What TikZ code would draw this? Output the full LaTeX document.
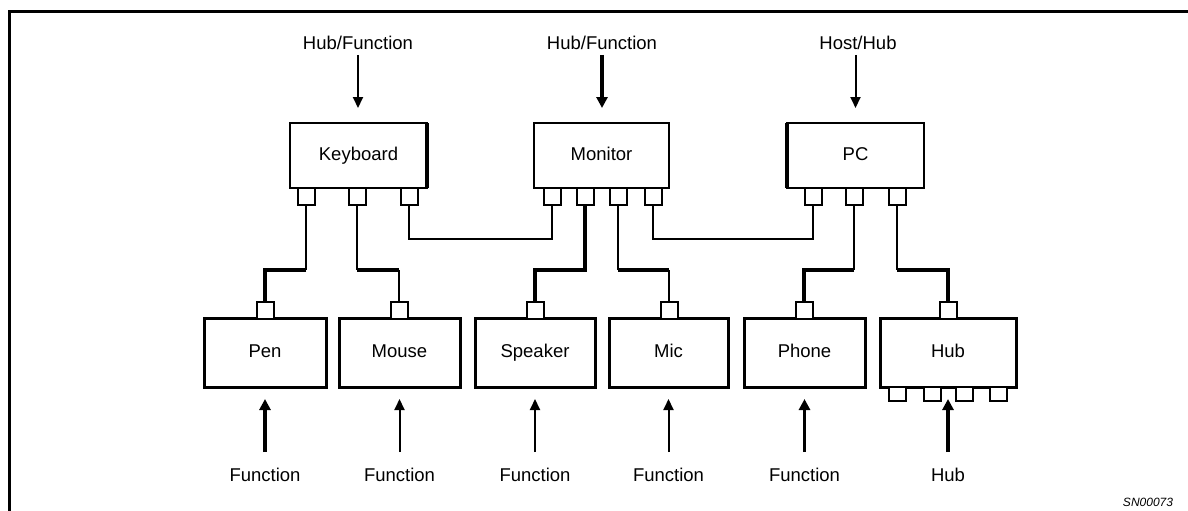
\documentclass[tikz,border=0pt]{standalone}
\usepackage{fontspec}
\setmainfont{Liberation Sans}
\usetikzlibrary{arrows.meta}
\begin{document}
\begin{tikzpicture}[x=1pt,y=-1pt,
  lbl/.style={font=\fontsize{18.5}{20}\selectfont, inner sep=0pt},
  topbox/.style={draw, line width=2.2pt, outer sep=0pt, inner sep=0pt, minimum height=65pt, text height=13pt, text depth=3.5pt, font=\fontsize{18.5}{20}\selectfont},
  botbox/.style={draw, line width=3pt, outer sep=0pt, inner sep=0pt, minimum height=69pt, text height=13pt, text depth=3.5pt, font=\fontsize{18.5}{20}\selectfont},
  port/.style={draw, fill=white, line width=2pt, outer sep=0pt, inner sep=0pt, minimum width=17pt, minimum height=17pt},
  hport/.style={port, minimum height=14pt},
  thinw/.style={line width=2pt},
  thickw/.style={line width=3.6pt},
  arrthin/.style={line width=2pt, -{Triangle[length=11pt,width=10pt]}},
  arrthick/.style={line width=3.4pt, -{Triangle[length=11pt,width=11pt]}},
  heavy/.style={line width=4.5pt}
]
\useasboundingbox (0,0) rectangle (1188,511);
\draw[line width=3.5pt] (9.5,530) -- (9.5,11.5) -- (1210,11.5);

% top boxes
\node[topbox, minimum width=137pt] (kb) at (358.5,155.5) {Keyboard};
\node[topbox, minimum width=135pt] (mon) at (601.5,155.5) {Monitor};
\node[topbox, minimum width=137pt] (pc) at (855.5,155.5) {PC};
\draw[heavy] (kb.north east) -- (kb.south east);
\draw[heavy] (pc.north west) -- (pc.south west);

% bottom boxes
\node[botbox, minimum width=122pt] (pen) at (265,352.5) {Pen};
\node[botbox, minimum width=121pt] (mouse) at (399.5,352.5) {Mouse};
\node[botbox, minimum width=120pt] (spk) at (535,352.5) {Speaker};
\node[botbox, minimum width=119pt] (mic) at (668.5,352.5) {Mic};
\node[botbox, minimum width=121pt] (ph) at (804.5,352.5) {Phone};
\node[botbox, minimum width=136pt] (hub) at (948,352.5) {Hub};

% ports on top boxes
\node[port] (k1) at (306,196.5) {};
\node[port] (k2) at (357,196.5) {};
\node[port] (k3) at (409,196.5) {};
\node[port] (m1) at (552,196.5) {};
\node[port] (m2) at (585,196.5) {};
\node[port] (m3) at (618,196.5) {};
\node[port] (m4) at (653,196.5) {};
\node[port] (c1) at (813,196.5) {};
\node[port] (c2) at (854,196.5) {};
\node[port] (c3) at (897,196.5) {};

% ports on bottom boxes
\node[port] (pp) at (265,310.5) {};
\node[port] (mp) at (399,310.5) {};
\node[port] (sp) at (535,310.5) {};
\node[port] (ip) at (669,310.5) {};
\node[port] (fp) at (804,310.5) {};
\node[port] (hp) at (948,310.5) {};

% hub downstream ports
\node[hport] (h1) at (897,394) {};
\node[hport] (h2) at (932,394) {};
\node[hport] (h3) at (964,394) {};
\node[hport] (h4) at (998,394) {};

% wiring
\draw[thinw] (k1.south) -- (k1.south |- 0,270) coordinate (j1);
\draw[thickw] (j1) -| (pp.north);
\draw[thinw] (k2.south) -- (k2.south |- 0,270) coordinate (j2);
\draw[thickw] (j2) -- (j2 -| mp.north) coordinate (j2b);
\draw[thinw] (j2b) -- (mp.north);
\draw[thinw] (k3.south) -- (k3.south |- 0,239) -| (m1.south);
\draw[thickw] (m2.south) -- (m2.south |- 0,270) -| (sp.north);
\draw[thinw] (m3.south) -- (m3.south |- 0,270) coordinate (j3);
\draw[thickw] (j3) -- (j3 -| ip.north) coordinate (j3b);
\draw[thinw] (j3b) -- (ip.north);
\draw[thinw] (m4.south) -- (m4.south |- 0,239) -| (c1.south);
\draw[thinw] (c2.south) -- (c2.south |- 0,270) coordinate (j4);
\draw[thickw] (j4) -| (fp.north);
\draw[thinw] (c3.south) -- (c3.south |- 0,270) coordinate (j5);
\draw[thickw] (j5) -| (hp.north);

% top labels and arrows
\node[lbl] (lk) at (358,43) {Hub/Function};
\node[lbl] (lm) at (602,43) {Hub/Function};
\node[lbl] (lc) at (858,43) {Host/Hub};
\draw[arrthin, shorten <=5pt, shorten >=15pt] (lk.south) -- (lk.south |- kb.north);
\draw[arrthick, shorten <=5pt, shorten >=15pt] (lm.south) -- (lm.south |- mon.north);
\draw[arrthin, shorten <=5pt, shorten >=15pt] (pc.north |- lc.south) -- (pc.north);

% bottom labels and arrows
\node[lbl] (fpen) at (265,475) {Function};
\node[lbl] (fmou) at (399.5,475) {Function};
\node[lbl] (fspk) at (535,475) {Function};
\node[lbl] (fmic) at (668.5,475) {Function};
\node[lbl] (fph) at (804.5,475) {Function};
\node[lbl] (fhub) at (948,475) {Hub};
\draw[arrthick, shorten <=16pt, shorten >=12pt] (fpen.north) -- (pen.south);
\draw[arrthin, shorten <=16pt, shorten >=12pt] (fmou.north) -- (mouse.south);
\draw[arrthin, shorten <=16pt, shorten >=12pt] (fspk.north) -- (spk.south);
\draw[arrthin, shorten <=16pt, shorten >=12pt] (fmic.north) -- (mic.south);
\draw[arrthick, shorten <=16pt, shorten >=12pt] (fph.north) -- (ph.south);
\draw[arrthick, shorten <=16pt, shorten >=12pt] (fhub.north) -- (hub.south);

\node[font=\fontsize{12}{14}\selectfont\itshape, inner sep=0pt] (sn) at (1148,502) {SN00073};
\end{tikzpicture}
\end{document}
